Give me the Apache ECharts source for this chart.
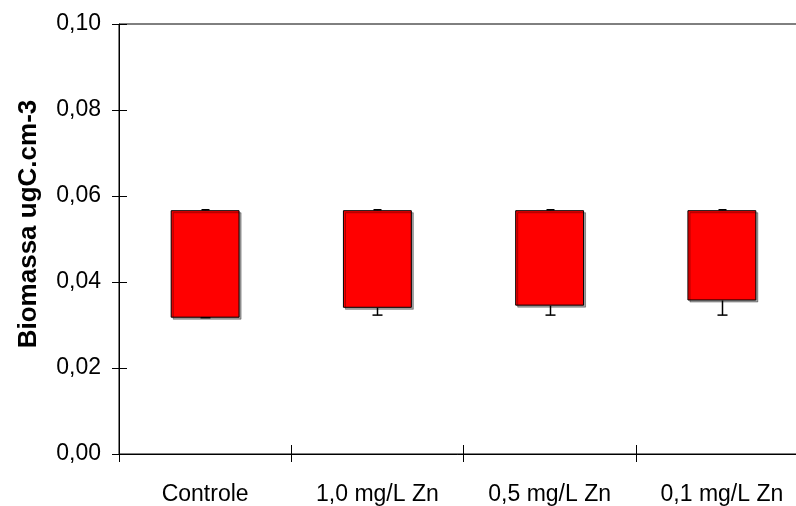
<!DOCTYPE html>
<html>
<head>
<meta charset="utf-8">
<script src="https://cdn.jsdelivr.net/npm/echarts@6/dist/echarts.min.js"></script>
<style>
  html, body { margin: 0; padding: 0; background: #fff; }
  #chart { width: 796px; height: 506px; }
</style>
</head>
<body>
<div id="chart"></div>
<script>
// Biomass range per treatment, with error whiskers
const categories = ['Controle', '1,0 mg/L Zn', '0,5 mg/L Zn', '0,1 mg/L Zn'];
const lowValues  = [0.0317, 0.0340, 0.0345, 0.0357];
const highValues = [0.0567, 0.0567, 0.0567, 0.0567];
const whiskerLow  = [0.0317, 0.0323, 0.0323, 0.0323];
const whiskerHigh = [0.0568, 0.0568, 0.0568, 0.0568];
const yTicks = ['0,00', '0,02', '0,04', '0,06', '0,08', '0,10'];
const yTitle = 'Biomassa ugC.cm-3';

const FONT = '"Liberation Sans", Arial, sans-serif';

const rangeValues = highValues.map((h, i) => +(h - lowValues[i]).toFixed(4));
const whiskerData = categories.map((c, i) => [i, lowValues[i], highValues[i], whiskerLow[i], whiskerHigh[i]]);

function fmtY(v) {
  const idx = Math.round(v / 0.02);
  return yTicks[idx] !== undefined ? yTicks[idx] : '';
}

const chart = echarts.init(document.getElementById('chart'), null, { renderer: 'canvas' });

chart.setOption({
  animation: false,
  backgroundColor: '#fff',
  grid: {
    // plot area runs slightly past the right edge of the canvas
    left: 119, top: 24, width: 689, height: 430,
    outerBoundsMode: 'none',
    containLabel: false,
    show: true, borderColor: '#000', borderWidth: 1, backgroundColor: 'transparent'
  },
  xAxis: [
    {
      type: 'category', data: categories, position: 'bottom',
      axisLine: { show: true, lineStyle: { color: '#000', width: 1 } },
      axisTick: { show: true, inside: false, length: 8, lineStyle: { color: '#000' } },
      axisLabel: { color: '#000', fontFamily: FONT, fontSize: 23, margin: 29 },
      splitLine: { show: false }
    },
    {
      type: 'category', data: categories, position: 'bottom', gridIndex: 0,
      axisLine: { show: false },
      axisTick: { show: true, inside: true, length: 9, lineStyle: { color: '#000' } },
      axisLabel: { show: false },
      splitLine: { show: false }
    }
  ],
  yAxis: [
    {
      type: 'value', min: 0, max: 0.1, interval: 0.02,
      axisLine: { show: true, lineStyle: { color: '#000', width: 1 } },
      axisTick: { show: true, inside: false, length: 7, lineStyle: { color: '#000' } },
      axisLabel: { color: '#000', fontFamily: FONT, fontSize: 23, margin: 18, formatter: fmtY },
      splitLine: { show: false }
    },
    {
      type: 'value', min: 0, max: 0.1, interval: 0.02, position: 'left',
      axisLine: { show: false },
      axisTick: { show: true, inside: true, length: 8, lineStyle: { color: '#000' } },
      axisLabel: { show: false },
      splitLine: { show: false }
    }
  ],
  graphic: [
    {
      type: 'text',
      x: 29, y: 224,
      rotation: Math.PI / 2,
      style: {
        text: yTitle,
        fontFamily: FONT, fontSize: 26, fontWeight: 'bold',
        fill: '#000', align: 'center', verticalAlign: 'middle'
      }
    }
  ],
  series: [
    {
      type: 'bar', name: 'base', stack: 'range', barWidth: '40%',
      data: lowValues,
      itemStyle: { color: 'rgba(0,0,0,0)', borderWidth: 0 },
      silent: true
    },
    {
      type: 'bar', name: 'Biomassa', stack: 'range', barWidth: '40%',
      data: rangeValues,
      itemStyle: {
        color: '#ff0000', borderColor: '#000', borderWidth: 1,
        shadowColor: 'rgba(0,0,0,0.35)', shadowBlur: 0, shadowOffsetX: 2, shadowOffsetY: 2
      }
    },
    {
      type: 'custom', name: 'whiskers',
      data: whiskerData,
      z: 5,
      renderItem: function (params, api) {
        const i = api.value(0);
        const pLow = api.coord([i, api.value(1)]);
        const pHigh = api.coord([i, api.value(2)]);
        const wLow = api.coord([i, api.value(3)]);
        const wHigh = api.coord([i, api.value(4)]);
        const x = Math.round(pLow[0]) + 0.5;
        const st = { stroke: '#000', lineWidth: 1.5 };
        const children = [];
        // upper whisker
        children.push({ type: 'line', shape: { x1: x, y1: pHigh[1], x2: x, y2: wHigh[1] }, style: st });
        children.push({ type: 'line', shape: { x1: x - 4, y1: wHigh[1], x2: x + 4, y2: wHigh[1] }, style: st });
        // lower whisker
        children.push({ type: 'line', shape: { x1: x, y1: pLow[1], x2: x, y2: wLow[1] }, style: st });
        children.push({ type: 'line', shape: { x1: x - 5, y1: wLow[1], x2: x + 5, y2: wLow[1] }, style: st });
        return { type: 'group', children: children };
      }
    }
  ]
});
</script>
</body>
</html>
